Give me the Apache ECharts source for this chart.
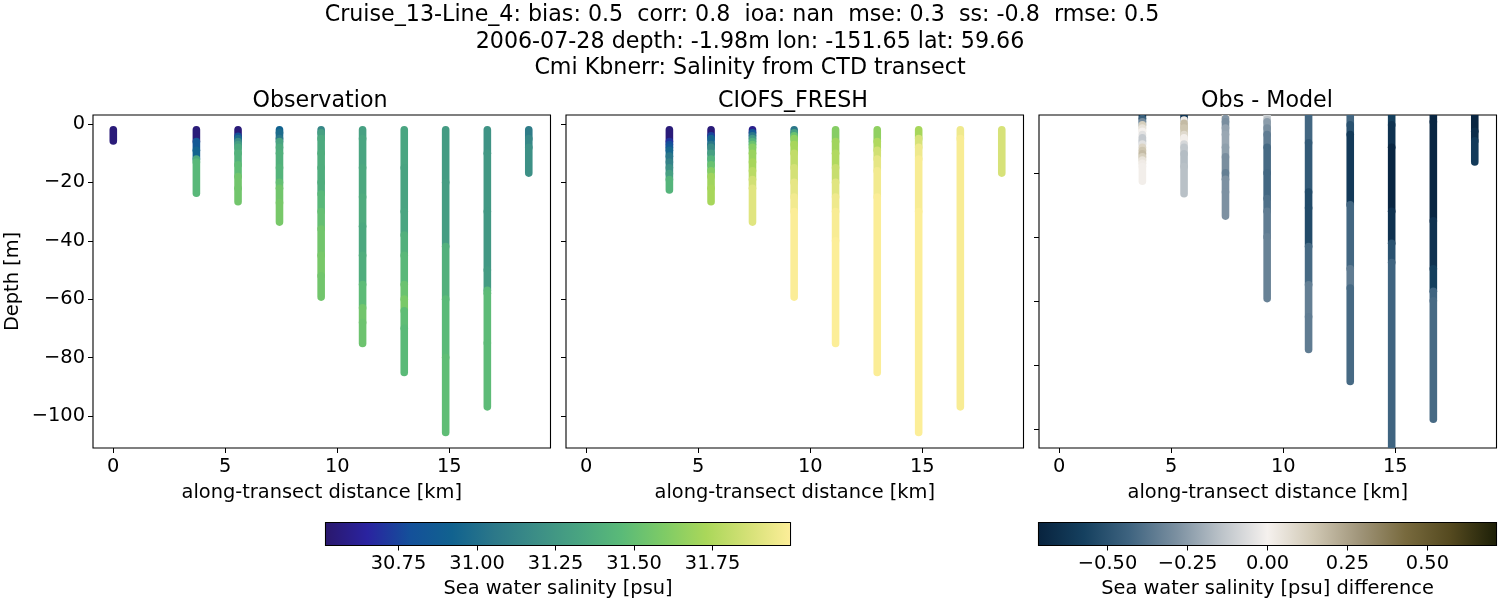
<!DOCTYPE html>
<html>
<head>
<meta charset="utf-8">
<title>Cruise_13-Line_4</title>
<script src="https://cdn.jsdelivr.net/npm/echarts@6/dist/echarts.min.js"></script>
<style>
  html, body { margin: 0; padding: 0; background: #fff; }
  #chart { width: 1500px; height: 600px; }
</style>
</head>
<body>
<div id="chart"></div>
<script>
// stations along the transect [km]
const stationKm = [0, 3.71, 5.57, 7.42, 9.28, 11.13, 12.99, 14.84, 16.7, 18.55];
const topDepth = -1.98;

// each station is a stack of bands: lower edge depth [m] and the value read in that band
const obsDepths = [
  [-5.8],
  [-6, -9, -12, -13, -23.7],
  [-4.2, -5, -6, -7, -8, -10, -14, -18, -22, -26.6],
  [-3, -5, -6, -8, -10, -15, -20, -22, -27, -33.6],
  [-3, -5, -10, -15, -20, -24, -30, -36, -45, -52, -59.3],
  [-5, -15, -25, -35, -45, -55, -63, -68, -75.2],
  [-15, -30, -38, -45, -55, -60, -64, -70, -85.1],
  [-20, -42, -60, -80, -105.7],
  [-10, -30, -50, -57, -58, -75, -96.9],
  [-5, -8, -16.8],
];
const obsSalinity = [
  [30.55],
  [30.55, 30.85, 30.93, 31.35, 31.45],
  [30.55, 30.8, 30.98, 31.18, 31.28, 31.36, 31.41, 31.48, 31.55, 31.55],
  [30.92, 30.98, 31.05, 31.32, 31.37, 31.4, 31.42, 31.5, 31.55, 31.57],
  [31.15, 31.3, 31.36, 31.38, 31.38, 31.38, 31.45, 31.5, 31.55, 31.57, 31.55],
  [31.3, 31.33, 31.35, 31.37, 31.35, 31.38, 31.47, 31.55, 31.53],
  [31.33, 31.32, 31.33, 31.4, 31.45, 31.52, 31.58, 31.48, 31.46],
  [31.27, 31.28, 31.4, 31.46, 31.48],
  [31.22, 31.25, 31.25, 31.27, 31.45, 31.47, 31.47],
  [31.08, 31.15, 31.2],
];

const modelKm = stationKm.slice(1);
const modelDepths = [
  [-6, -7, -8, -9, -11, -13, -15, -17, -19, -22.6],
  [-4, -5, -7, -8, -10, -12, -14, -16, -18, -22, -26.6],
  [-3, -4, -5, -6, -7, -8, -10, -13, -16, -19, -22, -33.6],
  [-3, -4, -5, -7, -10, -15, -20, -25, -30, -59.3],
  [-6, -10, -15, -20, -25, -30, -40, -75.2],
  [-6, -9, -12, -16, -25, -85.1],
  [-5, -8, -12, -30, -105.7],
  [-5, -96.9],
  [-16.8],
];
const modelSalinity = [
  [30.55, 30.7, 30.78, 30.85, 30.95, 31.05, 31.12, 31.2, 31.3, 31.42],
  [30.55, 30.75, 30.95, 31.05, 31.18, 31.3, 31.42, 31.52, 31.62, 31.7, 31.72],
  [30.6, 30.85, 31.05, 31.25, 31.4, 31.52, 31.62, 31.68, 31.72, 31.78, 31.85, 31.9],
  [31.05, 31.3, 31.52, 31.65, 31.72, 31.8, 31.86, 31.92, 31.96, 31.99],
  [31.62, 31.7, 31.75, 31.82, 31.9, 31.95, 31.98, 31.995],
  [31.65, 31.75, 31.85, 31.92, 31.96, 31.99],
  [31.72, 31.87, 31.95, 31.98, 31.995],
  [31.95, 31.98],
  [31.87],
];

const diffDepths = [
  [-3, -4, -5, -6, -7, -8, -9, -10, -11, -12, -13, -14, -15, -16, -17, -18, -22.6],
  [-3.5, -4.5, -6, -8, -9, -11, -12, -14, -18, -26.5],
  [-2.5, -3, -4, -6, -8, -12, -15, -20, -22, -26, -33.5],
  [-3.4, -4, -6, -8, -12, -20, -28, -32, -40, -59.3],
  [-10.6, -26, -31, -43, -55, -65, -75.2],
  [-5, -8, -30, -50, -56, -85.2],
  [-5, -12, -32, -42, -48, -105.7],
  [-4, -35, -50, -57, -60, -97],
  [-7, -10, -16.6],
];
const diffValues = [
  [-0.65, -0.45, -0.3, 0.12, 0.05, 0, -0.05, -0.12, -0.12, -0.05, 0.1, 0.15, 0.18, 0.12, 0.05, 0.02, 0.01],
  [-0.62, 0.02, 0.18, 0.15, 0.08, 0.01, -0.08, -0.13, -0.16, -0.15],
  [0.15, 0.05, -0.27, -0.29, -0.23, -0.22, -0.24, -0.29, -0.34, -0.28, -0.28],
  [-0.1, -0.15, -0.25, -0.29, -0.35, -0.41, -0.42, -0.39, -0.35, -0.33],
  [-0.42, -0.47, -0.53, -0.53, -0.41, -0.34, -0.35],
  [-0.42, -0.5, -0.6, -0.42, -0.35, -0.41],
  [-0.58, -0.64, -0.7, -0.64, -0.5, -0.43],
  [-0.7, -0.7, -0.64, -0.58, -0.43, -0.41],
  [-0.7, -0.66, -0.6],
];

const kmTicks = [0, 5, 10, 15];
const depthTicks = [-100, -80, -60, -40, -20, 0];
const diffDepthTicks = [-100, -80, -60, -40, -20];
const salinityTicks = [30.75, 31, 31.25, 31.5, 31.75];
const salinityRange = [30.5175, 31.998];
const diffTicks = [-0.5, -0.25, 0, 0.25, 0.5];
const diffRange = [-0.716, 0.716];

// colour maps
const halineStops = ["#2a186c", "#2a23a0", "#14509a", "#11628f", "#2c7889", "#3c8e86", "#49a481", "#5aba78", "#7ecb66", "#aad75a", "#d5e177", "#fdee99"];
const diffStops = ["#08233e", "#15405f", "#3f6480", "#7a8fa0", "#bcc3c9", "#f5f1ee", "#d0c8b4", "#a0957a", "#786a3e", "#54491f", "#1c1f07"];

const font = "DejaVu Sans";
const textSize = 19.4;

function mapColor(stops, range, v) {
  const t = Math.min(1, Math.max(0, (v - range[0]) / (range[1] - range[0]))) * (stops.length - 1);
  const i = Math.min(stops.length - 2, Math.floor(t));
  const a = echarts.color.parse(stops[i]);
  const b = echarts.color.parse(stops[i + 1]);
  const f = t - i;
  return "rgb(" + [0, 1, 2].map((k) => Math.round(a[k] + (b[k] - a[k]) * f)).join(",") + ")";
}

function bandRows(kms, depths, values) {
  const rows = [];
  kms.forEach((km, s) => {
    let top = topDepth;
    depths[s].forEach((d, i) => {
      rows.push([km, top, d, values[s][i]]);
      top = d;
    });
  });
  return rows;
}

function bandSeries(idx, rows, stops, range) {
  return {
    type: "custom",
    xAxisIndex: idx,
    yAxisIndex: idx,
    clip: true,
    silent: true,
    encode: { x: 0, y: [1, 2] },
    data: rows,
    renderItem: (params, api) => {
      const a = api.coord([api.value(0), api.value(1)]);
      const b = api.coord([api.value(0), api.value(2)]);
      return {
        type: "line",
        shape: { x1: a[0], y1: a[1], x2: b[0], y2: b[1] },
        style: { stroke: mapColor(stops, range, api.value(3)), lineWidth: 7.6, lineCap: "round", fill: null },
      };
    },
  };
}

function barSeries(idx, range, stops) {
  return {
    type: "custom",
    xAxisIndex: idx,
    yAxisIndex: idx,
    silent: true,
    data: [[range[0], range[1]]],
    encode: { x: [0, 1] },
    renderItem: (params, api) => {
      const a = api.coord([api.value(0), 1]);
      const b = api.coord([api.value(1), 0]);
      const colors = stops.map((c, i) => ({ offset: i / (stops.length - 1), color: c }));
      return {
        type: "rect",
        shape: { x: a[0], y: a[1], width: b[0] - a[0], height: b[1] - a[1] },
        style: { fill: new echarts.graphic.LinearGradient(0, 0, 1, 0, colors), stroke: "#000", lineWidth: 1 },
      };
    },
  };
}

const labelStyle = { color: "#000", fontFamily: font, fontSize: textSize };
const panelGrids = [
  { left: 93, top: 115, width: 457.5, height: 333 },
  { left: 566, top: 115, width: 457.5, height: 333 },
  { left: 1039, top: 115, width: 457.5, height: 333 },
];
const barGrids = [
  { left: 325.5, top: 522.5, width: 465, height: 23 },
  { left: 1038.5, top: 522.5, width: 458, height: 23 },
];
const frame = { show: true, borderColor: "#000", borderWidth: 1.1, backgroundColor: "transparent" };
const hiddenLine = { show: false, onZero: false };
const tickStyle = { length: 5, lineStyle: { color: "#000", width: 1 } };

function kmAxis(idx) {
  return {
    type: "value", gridIndex: idx, min: -0.906, max: 19.52,
    name: "along-transect distance [km]", nameLocation: "middle", nameGap: 35,
    nameTextStyle: labelStyle,
    splitLine: { show: false },
    axisLine: hiddenLine,
    axisTick: { ...tickStyle, customValues: kmTicks },
    axisLabel: { ...labelStyle, margin: 9, customValues: kmTicks },
  };
}

function depthAxis(idx, min, max, ticks, labels) {
  return {
    type: "value", gridIndex: idx, min: min, max: max,
    splitLine: { show: false },
    axisLine: hiddenLine,
    axisTick: { ...tickStyle, customValues: ticks },
    axisLabel: {
      show: labels, ...labelStyle, margin: 8, padding: [5, 0, 0, 0], customValues: ticks,
      formatter: (v) => String(v).replace("-", "\u2212"),
    },
  };
}

function barAxis(idx, range, ticks, name, digits) {
  return {
    type: "value", gridIndex: idx, min: range[0], max: range[1],
    name: name, nameLocation: "middle", nameGap: 34,
    nameTextStyle: labelStyle,
    splitLine: { show: false },
    axisLine: hiddenLine,
    axisTick: { ...tickStyle, customValues: ticks },
    axisLabel: {
      ...labelStyle, margin: 9, customValues: ticks,
      formatter: (v) => v.toFixed(digits).replace("-", "\u2212"),
    },
  };
}

function heading(text, x, y, size) {
  return { text: text, left: x, top: y, textAlign: "center", padding: 0, textStyle: { ...labelStyle, fontSize: size, fontWeight: "normal" } };
}

const chart = echarts.init(document.getElementById("chart"), null, { renderer: "canvas" });
chart.setOption({
  animation: false,
  backgroundColor: "#fff",
  title: [
    heading("Cruise_13-Line_4: bias: 0.5  corr: 0.8  ioa: nan  mse: 0.3  ss: -0.8  rmse: 0.5", 742, 4, 22.2),
    heading("2006-07-28 depth: -1.98m lon: -151.65 lat: 59.66", 750, 31, 22.2),
    heading("Cmi Kbnerr: Salinity from CTD transect", 750, 57, 22.2),
    heading("Observation", 320, 90, 22.2),
    heading("CIOFS_FRESH", 793, 90, 22.2),
    heading("Obs - Model", 1267, 90, 22.2),
  ],
  grid: [...panelGrids, ...barGrids].map((g) => ({ ...g, ...frame })),
  xAxis: [
    kmAxis(0), kmAxis(1), kmAxis(2),
    barAxis(3, salinityRange, salinityTicks, "Sea water salinity [psu]", 2),
    barAxis(4, diffRange, diffTicks, "Sea water salinity [psu] difference", 2),
  ],
  yAxis: [
    { ...depthAxis(0, -111, 3.1, depthTicks, true), name: "Depth [m]", nameLocation: "middle", nameGap: 71, nameTextStyle: labelStyle },
    depthAxis(1, -111, 3.1, depthTicks, false),
    depthAxis(2, -106, -1.9, diffDepthTicks, false),
    { type: "value", gridIndex: 3, min: 0, max: 1, show: false },
    { type: "value", gridIndex: 4, min: 0, max: 1, show: false },
  ],
  series: [
    bandSeries(0, bandRows(stationKm, obsDepths, obsSalinity), halineStops, salinityRange),
    bandSeries(1, bandRows(modelKm, modelDepths, modelSalinity), halineStops, salinityRange),
    bandSeries(2, bandRows(modelKm, diffDepths, diffValues), diffStops, diffRange),
    barSeries(3, salinityRange, halineStops),
    barSeries(4, diffRange, diffStops),
  ],
});
</script>
</body>
</html>
